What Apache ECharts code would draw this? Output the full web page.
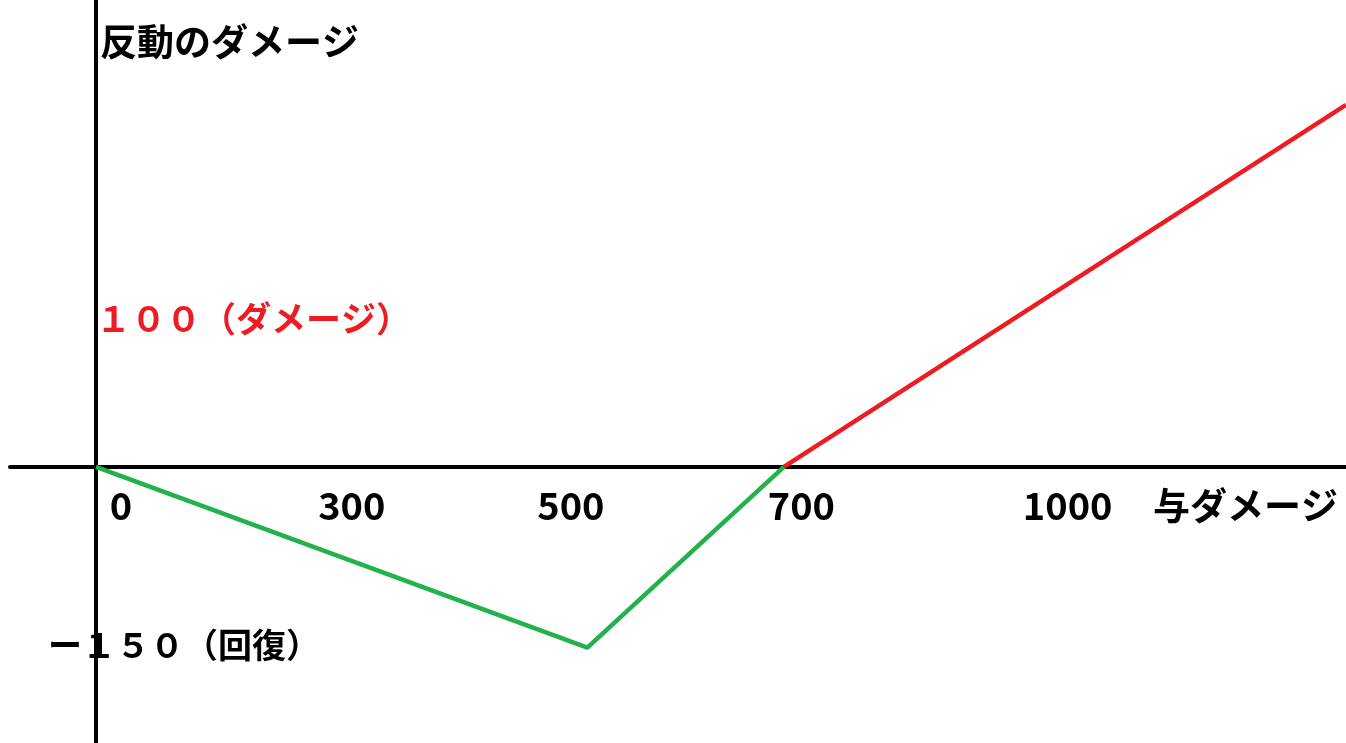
<!DOCTYPE html>
<html>
<head>
<meta charset="utf-8">
<script src="https://cdn.jsdelivr.net/npm/echarts@6/dist/echarts.min.js"></script>
<style>
html,body{margin:0;padding:0;background:#fff;}
#chart{width:1346px;height:743px;}
</style>
</head>
<body>
<div id="chart"></div>
<script>
// data
var xTickLabels = [0, 300, 500, 700, 1000];
var recoveryPart = [[0, 0], [500, -150], [700, 0]];   // green segment
var damagePart = [[700, 0], [1272, 300]];              // red segment
var yTitle = '反動のダメージ';
var xTitle = '与ダメージ';
var damageNote = '１００（ダメージ）';
var recoveryNote = 'ー１５０（回復）';

var FONT = '"Noto Sans CJK JP", "Noto Sans", sans-serif';
var labelNudge = {0: 50, 300: -78, 500: -33, 700: 35, 1000: -22};
var X_MIN = -87.5, X_MAX = 1272, Y_MIN = -229, Y_MAX = 387;
var H = 743;
var zeroOffset = -H * (0 - Y_MIN) / (Y_MAX - Y_MIN);

var chart = echarts.init(document.getElementById('chart'));
var rich = {};
xTickLabels.forEach(function (v) {
  var n = labelNudge[v] || 0;
  rich['t' + v] = {
    fontFamily: FONT, fontWeight: 'bold', fontSize: 38, color: '#000',
    padding: n >= 0 ? [0, 0, 0, n] : [0, -n, 0, 0]
  };
});

chart.setOption({
  animation: false,
  backgroundColor: '#fff',
  grid: {left: 10, right: 0, top: 0, bottom: 0, containLabel: false, outerBoundsMode: 'none'},
  xAxis: [{
    type: 'value', min: X_MIN, max: X_MAX,
    axisLine: {show: true, onZero: true, lineStyle: {color: '#000', width: 4}},
    axisTick: {show: false},
    splitLine: {show: false},
    axisLabel: {show: false}
  }, {
    type: 'value', min: X_MIN, max: X_MAX, position: 'bottom', offset: zeroOffset,
    axisLine: {show: false, onZero: false},
    axisTick: {show: false},
    splitLine: {show: false},
    axisLabel: {
      show: true, margin: 20,
      customValues: xTickLabels,
      formatter: function (v) { return '{t' + v + '|' + v + '}'; },
      rich: rich
    }
  }],
  yAxis: {
    type: 'value', min: Y_MIN, max: Y_MAX,
    axisLine: {show: true, onZero: true, lineStyle: {color: '#000', width: 4}},
    axisTick: {show: false},
    splitLine: {show: false},
    axisLabel: {show: false}
  },
  series: [
    {type: 'line', data: recoveryPart, symbol: 'none',
     lineStyle: {color: '#22b14c', width: 4.5}, z: 3},
    {type: 'line', data: damagePart, symbol: 'none',
     lineStyle: {color: '#ed1c24', width: 4.5}, z: 3}
  ],
  graphic: [
    {type: 'text', left: 100, top: 23, z: 10,
     style: {text: yTitle, font: 'bold 37px ' + FONT, fill: '#000'}},
    {type: 'text', left: 1153, top: 487, z: 10,
     style: {text: xTitle, font: 'bold 37px ' + FONT, fill: '#000'}},
    {type: 'text', left: 96, top: 301, z: 10,
     style: {text: damageNote, font: 'bold 35px ' + FONT, fill: '#ed1c24'}},
    {type: 'text', left: 48, top: 628, z: 10,
     style: {text: recoveryNote, font: 'bold 34px ' + FONT, fill: '#000'}}
  ]
});
</script>
</body>
</html>
